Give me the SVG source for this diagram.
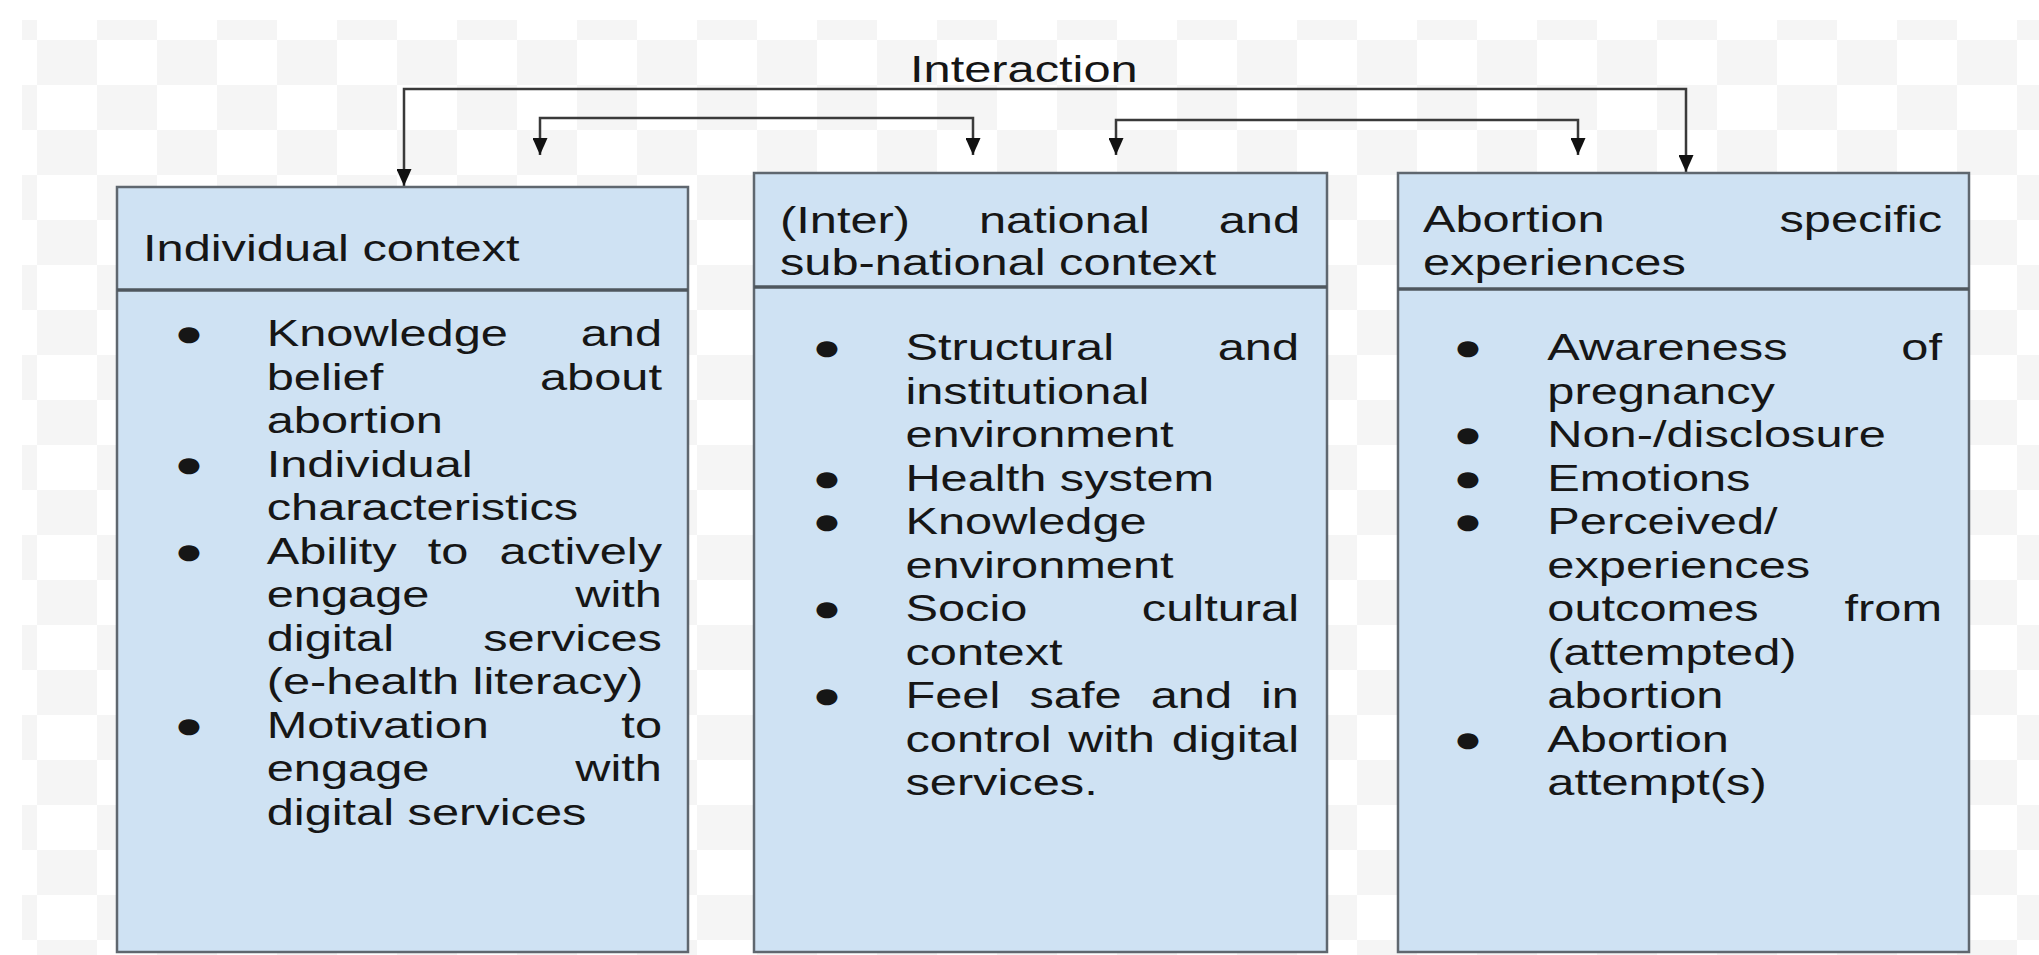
<svg xmlns="http://www.w3.org/2000/svg" width="2039" height="955" viewBox="0 0 2039 955">
<style>
.t{font-family:"Liberation Sans",Arial,sans-serif;font-size:37.5px;fill:#161616}
.r{text-anchor:end}
.m{text-anchor:middle}
.box{fill:#cfe2f3;stroke:#5f676f;stroke-width:2.5}
.dv{stroke:#4f575e;stroke-width:3.5}
.conn{fill:none;stroke:#3a3a3a;stroke-width:2.5}
</style>
<defs>
<pattern id="chk" x="37" y="40" width="120" height="90" patternUnits="userSpaceOnUse">
<rect width="120" height="90" fill="#ffffff"/>
<rect width="60" height="45" fill="#f5f5f5"/>
<rect x="60" y="45" width="60" height="45" fill="#f5f5f5"/>
</pattern>
<marker id="ah" viewBox="0 0 17 15" refX="17" refY="7.5" markerUnits="userSpaceOnUse" markerWidth="17" markerHeight="15" orient="auto-start-reverse">
<path d="M0,0 L17,7.5 L0,15 z" fill="#111"/>
</marker>
</defs>
<rect width="2039" height="955" fill="#ffffff"/>
<rect x="22" y="20" width="2017" height="935" fill="url(#chk)"/>

<g id="connectors">
<path class="conn" d="M404,186 V89 H1686 V172" marker-start="url(#ah)" marker-end="url(#ah)"/>
<path class="conn" d="M540,155 V118 H973 V155" marker-start="url(#ah)" marker-end="url(#ah)"/>
<path class="conn" d="M1116,155 V120 H1578 V155" marker-start="url(#ah)" marker-end="url(#ah)"/>
<text class="t" transform="translate(910 82) scale(1.3 1)">Interaction</text>
</g>

<g id="node-individual">
<rect class="box" x="117" y="187" width="571" height="765"/>
<line class="dv" x1="117" y1="290" x2="688" y2="290"/>
<text class="t" transform="translate(143 261) scale(1.3 1)">Individual context</text>
<text class="t m" transform="translate(189 346) scale(1.3 1)">●</text>
<text class="t" transform="translate(266.7 346) scale(1.3 1)">Knowledge</text>
<text class="t r" transform="translate(662 346) scale(1.3 1)">and</text>
<text class="t" transform="translate(266.7 389.5) scale(1.3 1)">belief</text>
<text class="t r" transform="translate(662 389.5) scale(1.3 1)">about</text>
<text class="t" transform="translate(266.7 433) scale(1.3 1)">abortion</text>
<text class="t m" transform="translate(189 476.5) scale(1.3 1)">●</text>
<text class="t" transform="translate(266.7 476.5) scale(1.3 1)">Individual</text>
<text class="t" transform="translate(266.7 520) scale(1.3 1)">characteristics</text>
<text class="t m" transform="translate(189 563.5) scale(1.3 1)">●</text>
<text class="t" transform="translate(266.7 563.5) scale(1.3 1)">Ability</text>
<text class="t" transform="translate(427.7 563.5) scale(1.3 1)">to</text>
<text class="t r" transform="translate(662 563.5) scale(1.3 1)">actively</text>
<text class="t" transform="translate(266.7 607) scale(1.3 1)">engage</text>
<text class="t r" transform="translate(662 607) scale(1.3 1)">with</text>
<text class="t" transform="translate(266.7 650.5) scale(1.3 1)">digital</text>
<text class="t r" transform="translate(662 650.5) scale(1.3 1)">services</text>
<text class="t" transform="translate(266.7 694) scale(1.3 1)">(e-health literacy)</text>
<text class="t m" transform="translate(189 737.5) scale(1.3 1)">●</text>
<text class="t" transform="translate(266.7 737.5) scale(1.3 1)">Motivation</text>
<text class="t r" transform="translate(662 737.5) scale(1.3 1)">to</text>
<text class="t" transform="translate(266.7 781) scale(1.3 1)">engage</text>
<text class="t r" transform="translate(662 781) scale(1.3 1)">with</text>
<text class="t" transform="translate(266.7 824.5) scale(1.3 1)">digital services</text>
</g>

<g id="node-national">
<rect class="box" x="754" y="173" width="573" height="779"/>
<line class="dv" x1="754" y1="287" x2="1327" y2="287"/>
<text class="t" transform="translate(780 233) scale(1.3 1)">(Inter)</text>
<text class="t" transform="translate(979 233) scale(1.3 1)">national</text>
<text class="t r" transform="translate(1300 233) scale(1.3 1)">and</text>
<text class="t" transform="translate(780 275) scale(1.3 1)">sub-national context</text>
<text class="t m" transform="translate(827 360) scale(1.3 1)">●</text>
<text class="t" transform="translate(905.4 360) scale(1.3 1)">Structural</text>
<text class="t r" transform="translate(1299 360) scale(1.3 1)">and</text>
<text class="t" transform="translate(905.4 403.5) scale(1.3 1)">institutional</text>
<text class="t" transform="translate(905.4 447) scale(1.3 1)">environment</text>
<text class="t m" transform="translate(827 490.5) scale(1.3 1)">●</text>
<text class="t" transform="translate(905.4 490.5) scale(1.3 1)">Health system</text>
<text class="t m" transform="translate(827 534) scale(1.3 1)">●</text>
<text class="t" transform="translate(905.4 534) scale(1.3 1)">Knowledge</text>
<text class="t" transform="translate(905.4 577.5) scale(1.3 1)">environment</text>
<text class="t m" transform="translate(827 621) scale(1.3 1)">●</text>
<text class="t" transform="translate(905.4 621) scale(1.3 1)">Socio</text>
<text class="t r" transform="translate(1299 621) scale(1.3 1)">cultural</text>
<text class="t" transform="translate(905.4 664.5) scale(1.3 1)">context</text>
<text class="t m" transform="translate(827 708) scale(1.3 1)">●</text>
<text class="t" transform="translate(905.4 708) scale(1.3 1)">Feel</text>
<text class="t" transform="translate(1029.4 708) scale(1.3 1)">safe</text>
<text class="t" transform="translate(1150.7 708) scale(1.3 1)">and</text>
<text class="t r" transform="translate(1299 708) scale(1.3 1)">in</text>
<text class="t" transform="translate(905.4 751.5) scale(1.3 1)">control</text>
<text class="t" transform="translate(1068.3 751.5) scale(1.3 1)">with</text>
<text class="t r" transform="translate(1299 751.5) scale(1.3 1)">digital</text>
<text class="t" transform="translate(905.4 795) scale(1.3 1)">services.</text>
</g>

<g id="node-abortion">
<rect class="box" x="1398" y="173" width="571" height="779"/>
<line class="dv" x1="1398" y1="289" x2="1969" y2="289"/>
<text class="t" transform="translate(1423 232) scale(1.3 1)">Abortion</text>
<text class="t r" transform="translate(1942 232) scale(1.3 1)">specific</text>
<text class="t" transform="translate(1423 275) scale(1.3 1)">experiences</text>
<text class="t m" transform="translate(1468 360) scale(1.3 1)">●</text>
<text class="t" transform="translate(1547.3 360) scale(1.3 1)">Awareness</text>
<text class="t r" transform="translate(1942 360) scale(1.3 1)">of</text>
<text class="t" transform="translate(1547.3 403.5) scale(1.3 1)">pregnancy</text>
<text class="t m" transform="translate(1468 447) scale(1.3 1)">●</text>
<text class="t" transform="translate(1547.3 447) scale(1.3 1)">Non-/disclosure</text>
<text class="t m" transform="translate(1468 490.5) scale(1.3 1)">●</text>
<text class="t" transform="translate(1547.3 490.5) scale(1.3 1)">Emotions</text>
<text class="t m" transform="translate(1468 534) scale(1.3 1)">●</text>
<text class="t" transform="translate(1547.3 534) scale(1.3 1)">Perceived/</text>
<text class="t" transform="translate(1547.3 577.5) scale(1.3 1)">experiences</text>
<text class="t" transform="translate(1547.3 621) scale(1.3 1)">outcomes</text>
<text class="t r" transform="translate(1942 621) scale(1.3 1)">from</text>
<text class="t" transform="translate(1547.3 664.5) scale(1.3 1)">(attempted)</text>
<text class="t" transform="translate(1547.3 708) scale(1.3 1)">abortion</text>
<text class="t m" transform="translate(1468 751.5) scale(1.3 1)">●</text>
<text class="t" transform="translate(1547.3 751.5) scale(1.3 1)">Abortion</text>
<text class="t" transform="translate(1547.3 795) scale(1.3 1)">attempt(s)</text>
</g>
</svg>
